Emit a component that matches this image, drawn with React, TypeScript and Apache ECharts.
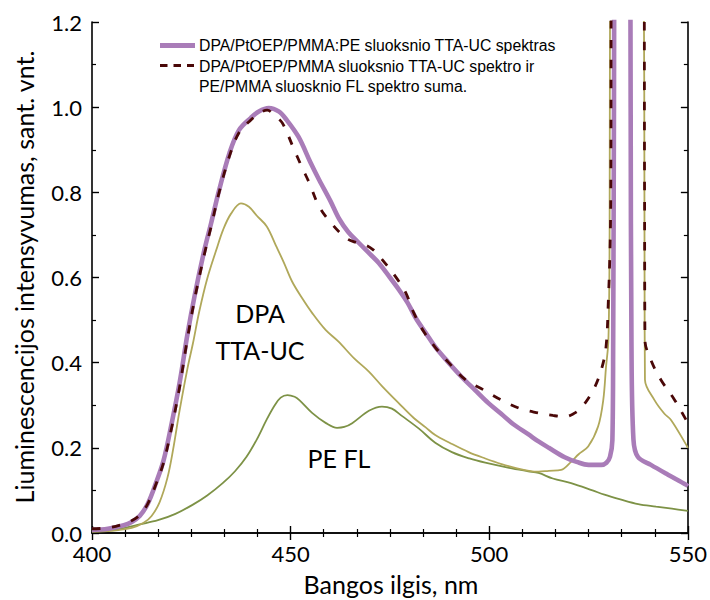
import React, { useEffect, useRef } from "react";
import * as echarts from "echarts";

// wavelength (nm), relative intensity
const upconversionBlend: [number, number][] = [
  [400, 0.007], [404, 0.01], [408, 0.018], [410, 0.026], [412, 0.04], [414, 0.068], [416, 0.115], [418, 0.17],
  [420, 0.255], [422, 0.35], [424, 0.465], [426, 0.565], [428.3, 0.665], [430, 0.728], [432, 0.805], [434.6, 0.892],
  [437, 0.946], [440, 0.975], [442, 0.99], [444.5, 0.998], [447, 0.99], [449, 0.97], [452, 0.93], [455, 0.87],
  [457.2, 0.829], [460, 0.78], [462.2, 0.738], [464.5, 0.707], [467.2, 0.681], [470, 0.655], [472.2, 0.634], [475, 0.6],
  [477.3, 0.571], [479.5, 0.54], [481.5, 0.505], [484, 0.47], [486.4, 0.437], [489.5, 0.403], [493, 0.367], [496.5, 0.335],
  [499.8, 0.305], [503, 0.28], [506, 0.256], [509.8, 0.232], [512.4, 0.215], [515, 0.2], [519, 0.178], [522, 0.167],
  [525, 0.16], [528.2, 0.16], [529.5, 0.165], [530.4, 0.179], [531, 0.218], [531.2, 0.45], [531.4, 1.0], [531.6, 1.5],
  [533.5, 3.0], [535.4, 1.5], [535.6, 1.0], [535.8, 0.45], [536.3, 0.22], [537.4, 0.179], [540.7, 0.16], [545, 0.137],
  [549.6, 0.113], [550, 0.11],
];

const sumSpectrum: [number, number][] = [
  [400, 0.01], [404, 0.012], [408, 0.021], [410, 0.029], [412, 0.042], [414, 0.068], [416, 0.112], [418, 0.165],
  [420, 0.245], [422, 0.34], [424, 0.455], [426, 0.557], [428.3, 0.655], [430, 0.72], [432, 0.8], [434.6, 0.885],
  [437, 0.94], [440, 0.97], [442, 0.985], [444.1, 0.993], [446, 0.98], [447.9, 0.963], [450.9, 0.9], [452.8, 0.86],
  [454.7, 0.822], [457.2, 0.766], [460.2, 0.728], [463.9, 0.693], [466.5, 0.682], [468.9, 0.676], [470.8, 0.665],
  [472.7, 0.646], [476.5, 0.601], [479, 0.564], [481, 0.517], [483.5, 0.473], [486.5, 0.435], [489.8, 0.4], [494, 0.36],
  [498.6, 0.336], [503.1, 0.312], [508.1, 0.291], [512.4, 0.282], [516, 0.276], [519, 0.273], [521, 0.279], [523.1, 0.293],
  [526.2, 0.336], [528.2, 0.383], [529.4, 0.437], [530, 0.55], [530.4, 0.665], [530.6, 0.8], [530.8, 1.5], [534.8, 3.0],
  [538.9, 1.5], [539.1, 0.8], [539.2, 0.453], [540.7, 0.406], [543.2, 0.36], [546.7, 0.312], [549.6, 0.265], [550, 0.26],
];

const dpaTtaUc: [number, number][] = [
  [400, 0.003], [405, 0.005], [410, 0.012], [413, 0.024], [415, 0.04], [417, 0.072], [419, 0.13], [420.4, 0.195],
  [422, 0.285], [424, 0.385], [425.4, 0.445], [427, 0.52], [429, 0.597], [431.3, 0.665], [433, 0.712], [435, 0.75],
  [437.5, 0.774], [439.5, 0.766], [441.5, 0.745], [444, 0.72], [446.3, 0.675], [448.3, 0.635], [450.4, 0.59], [453, 0.55],
  [455.4, 0.517], [458.8, 0.477], [462, 0.45], [466, 0.41], [469.7, 0.379], [473, 0.345], [477.2, 0.305], [481, 0.27],
  [484, 0.248], [486.4, 0.23], [490, 0.212], [494.8, 0.19], [499, 0.175], [503.1, 0.162], [507, 0.152], [510, 0.146],
  [512.4, 0.144], [515, 0.146], [518.1, 0.148], [520.6, 0.167], [522.5, 0.185], [524.9, 0.203], [527.4, 0.25],
  [528.7, 0.312], [529.4, 0.39], [530, 0.453], [530.3, 0.7], [530.5, 1.5], [534.7, 3.0], [538.8, 1.5], [539.1, 0.6],
  [539.2, 0.36], [541.6, 0.312], [544.1, 0.28], [545.8, 0.265], [549.6, 0.207], [550, 0.2],
];

const peFluorescence: [number, number][] = [
  [400, 0.003], [404, 0.006], [408.3, 0.012], [412, 0.02], [416.6, 0.03], [421, 0.045], [425.3, 0.066], [429, 0.088],
  [432.9, 0.117], [436, 0.145], [438.9, 0.179], [441.5, 0.22], [443.9, 0.265], [446, 0.3], [447.5, 0.318], [449.2, 0.324],
  [451, 0.32], [452.2, 0.312], [455.4, 0.282], [458.9, 0.258], [461.7, 0.247], [463.5, 0.249], [465.5, 0.258],
  [469.7, 0.287], [473, 0.297], [475.5, 0.292], [478, 0.275], [482.3, 0.245], [486.4, 0.212], [490.6, 0.19], [495, 0.175],
  [499, 0.165], [505, 0.153], [509.8, 0.145], [512.4, 0.141], [516, 0.128], [520.6, 0.117], [526, 0.1], [529, 0.09],
  [533, 0.079], [537.5, 0.068], [542, 0.062], [546, 0.057], [550, 0.052],
];

const legendLabels = [
  "DPA/PtOEP/PMMA:PE sluoksnio TTA-UC spektras",
  "DPA/PtOEP/PMMA sluoksnio TTA-UC spektro ir\nPE/PMMA sluosknio FL spektro suma.",
];
const xTitle = "Bangos ilgis, nm";
const yTitle = "Liuminescencijos intensyvumas, sant. vnt.";
const annotations = ["DPA", "TTA-UC", "PE FL"];

const PURPLE = "#a97cb8";
const MAROON = "#4a0808";
const OLIVE = "#b0a85a";
const GREEN = "#7d9246";
const FONT = "Lato";
const LEGEND_FONT = "15.8px 'Liberation Sans', Arial";

export default function App() {
  const ref = useRef<HTMLDivElement>(null);
  useEffect(() => {
    const chart = echarts.init(ref.current!, null, { renderer: "svg" });
    const axisLine = { show: true, lineStyle: { color: "#000", width: 1.6 } };
    const tick = { show: true, inside: true, length: 7, lineStyle: { color: "#000", width: 1.4 } };
    const label = { color: "#000", fontFamily: FONT, fontSize: 22 };
    const baseX = { type: "value", min: 400, max: 550, interval: 50, axisLine, axisTick: tick, splitLine: { show: false } };
    const baseY = { type: "value", min: 0, max: 1.2, interval: 0.2, axisLine, axisTick: tick, splitLine: { show: false } };
    const lineBase = { type: "line", showSymbol: false, symbol: "none", smooth: 0.35, clip: true };
    const centered = { textAlign: "center", align: "center", textVerticalAlign: "middle", verticalAlign: "middle" };
    chart.setOption({
      animation: false,
      backgroundColor: "#fff",
      grid: { left: 92, right: 20, top: 22, bottom: 67 },
      xAxis: [
        {
          ...baseX, position: "bottom",
          minorTick: { show: true, splitNumber: 6, length: 4, lineStyle: { color: "#000", width: 1.2 } },
          axisLabel: { ...label, margin: 9 },
        },
        {
          ...baseX, position: "top",
          minorTick: { show: true, splitNumber: 6, length: 4, lineStyle: { color: "#000", width: 1.2 } },
          axisLabel: { show: false },
        },
      ],
      yAxis: [
        {
          ...baseY, position: "left",
          minorTick: { show: true, splitNumber: 2, length: 4, lineStyle: { color: "#000", width: 1.2 } },
          axisLabel: { ...label, margin: 10, formatter: (v: number) => v.toFixed(1) },
        },
        {
          ...baseY, position: "right",
          minorTick: { show: true, splitNumber: 2, length: 4, lineStyle: { color: "#000", width: 1.2 } },
          axisLabel: { show: false },
        },
      ],
      series: [
        { ...lineBase, name: "PE FL", data: peFluorescence, lineStyle: { color: GREEN, width: 1.8 }, z: 2 },
        { ...lineBase, name: "DPA TTA-UC", data: dpaTtaUc, lineStyle: { color: OLIVE, width: 1.8 }, z: 3 },
        { ...lineBase, name: legendLabels[0], data: upconversionBlend, lineStyle: { color: PURPLE, width: 4.6 }, z: 4 },
        { ...lineBase, name: "suma", data: sumSpectrum, lineStyle: { color: MAROON, width: 2.8, type: [8.5, 11.5] }, z: 5 },
      ],
      graphic: [
        { type: "line", shape: { x1: 160, y1: 45.5, x2: 195, y2: 45.5 }, style: { stroke: PURPLE, lineWidth: 5 }, z: 10 },
        {
          type: "text", x: 199, y: 45.5, z: 10,
          style: { text: legendLabels[0], fill: "#000", font: LEGEND_FONT, textVerticalAlign: "middle", verticalAlign: "middle" },
        },
        { type: "line", shape: { x1: 160, y1: 65.5, x2: 194, y2: 65.5 }, style: { stroke: MAROON, lineWidth: 2.8, lineDash: [7.5, 6] }, z: 10 },
        {
          type: "text", x: 199, y: 56, z: 10,
          style: { text: legendLabels[1], fill: "#000", font: LEGEND_FONT, lineHeight: 20, textVerticalAlign: "top", verticalAlign: "top" },
        },
        { type: "text", x: 260, y: 313, z: 10, style: { text: annotations[0], fill: "#000", font: `25px ${FONT}`, ...centered } },
        { type: "text", x: 260, y: 350, z: 10, style: { text: annotations[1], fill: "#000", font: `25px ${FONT}`, ...centered } },
        { type: "text", x: 339, y: 458, z: 10, style: { text: annotations[2], fill: "#000", font: `25px ${FONT}`, ...centered } },
        { type: "text", x: 391, y: 584, z: 10, style: { text: xTitle, fill: "#000", font: `25px ${FONT}`, ...centered } },
        {
          type: "text", x: 24, y: 277, rotation: Math.PI / 2, z: 10,
          style: { text: yTitle, fill: "#000", font: `25px ${FONT}`, ...centered },
        },
      ],
    });
    return () => chart.dispose();
  }, []);
  return (
    <div
      ref={ref}
      style={{ position: "fixed", left: 0, top: 0, width: 710, height: 600, background: "#fff" }}
    />
  );
}
